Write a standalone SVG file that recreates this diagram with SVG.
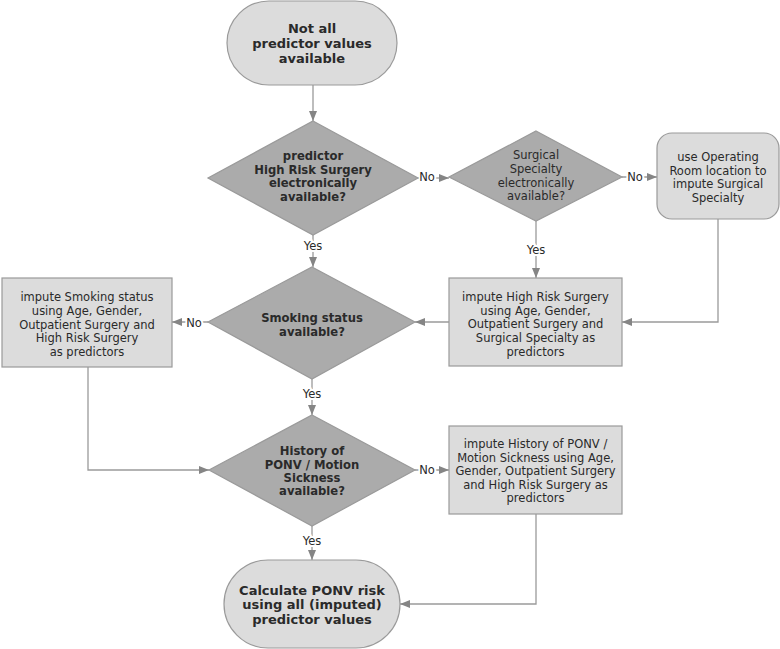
<svg xmlns="http://www.w3.org/2000/svg" width="780" height="649" viewBox="0 0 780 649">
<defs>
<marker id="ah" markerUnits="userSpaceOnUse" markerWidth="10" markerHeight="8" refX="10" refY="4" orient="auto">
<path d="M0,0 L10,4 L0,8 z" fill="#858585"/>
</marker>
<style>
.term{fill:#dcdcdc;stroke:#9a9a9a;stroke-width:1.2}
.dia{fill:#ababab;stroke:#9a9a9a;stroke-width:1.2}
.box{fill:#dcdcdc;stroke:#9a9a9a;stroke-width:1.2}
.conn{fill:none;stroke:#9a9a9a;stroke-width:1.3;marker-end:url(#ah)}
.connn{fill:none;stroke:#9a9a9a;stroke-width:1.3}
text{font-family:"DejaVu Sans",Verdana,sans-serif;fill:#2a2a2a;text-anchor:middle;dominant-baseline:central}
.b13{font-size:13px;font-weight:bold}
.b12{font-size:11.6px;font-weight:bold}
.r{font-size:11.5px}
.lbl{font-size:11.5px;stroke:#fff;stroke-width:4px;paint-order:stroke;stroke-linejoin:round}
</style>
</defs>
<g id="connectors">
<path class="conn" d="M313,85 V121"/>
<path class="conn" d="M418,178 H449"/>
<path class="conn" d="M622,177 H657"/>
<path class="conn" d="M718,219 V322 H622"/>
<path class="conn" d="M536,221 V278"/>
<path class="conn" d="M313,235 V267"/>
<path class="conn" d="M449,322 H415"/>
<path class="conn" d="M208,322 H172"/>
<path class="conn" d="M88,367 V470 H209"/>
<path class="conn" d="M312,379 V415"/>
<path class="conn" d="M415,470 H449"/>
<path class="conn" d="M536,514 V604 H400"/>
<path class="conn" d="M312,526 V560"/>
<text class="lbl" x="427" y="177">No</text>
<text class="lbl" x="635" y="177">No</text>
<text class="lbl" x="536" y="250">Yes</text>
<text class="lbl" x="313" y="246">Yes</text>
<text class="lbl" x="194" y="323">No</text>
<text class="lbl" x="312" y="394">Yes</text>
<text class="lbl" x="427" y="470">No</text>
<text class="lbl" x="312" y="541">Yes</text>
</g>
<g id="start">
<rect class="term" x="227" y="1" width="170" height="84" rx="42" ry="42"/>
<text class="b13" x="312" y="28">Not all</text>
<text class="b13" x="312" y="43">predictor values</text>
<text class="b13" x="312" y="58">available</text>
</g>
<g id="d-hrs">
<polygon class="dia" points="313,121 418,178 313,235 208,178"/>
<text class="b12" x="313" y="156">predictor</text>
<text class="b12" x="313" y="169.5">High Risk Surgery</text>
<text class="b12" x="313" y="183">electronically</text>
<text class="b12" x="313" y="196.5">available?</text>
</g>
<g id="d-spec">
<polygon class="dia" points="536,131 622,177 536,221 449,177"/>
<text class="r" x="536" y="155">Surgical</text>
<text class="r" x="536" y="169">Specialty</text>
<text class="r" x="536" y="182.5">electronically</text>
<text class="r" x="536" y="196">available?</text>
</g>
<g id="room">
<rect class="box" x="657" y="133" width="122" height="86" rx="15" ry="15"/>
<text class="r" x="718" y="157">use Operating</text>
<text class="r" x="718" y="170.5">Room location to</text>
<text class="r" x="718" y="184">impute Surgical</text>
<text class="r" x="718" y="197.5">Specialty</text>
</g>
<g id="hrs-box">
<rect class="box" x="449" y="278" width="173" height="88"/>
<text class="r" x="535.5" y="297">impute High Risk Surgery</text>
<text class="r" x="535.5" y="310.5">using Age, Gender,</text>
<text class="r" x="535.5" y="324">Outpatient Surgery and</text>
<text class="r" x="535.5" y="338">Surgical Specialty as</text>
<text class="r" x="535.5" y="352">predictors</text>
</g>
<g id="d-smoke">
<polygon class="dia" points="312,267 415,322 312,379 208,322"/>
<text class="b12" x="312" y="318">Smoking status</text>
<text class="b12" x="312" y="332">available?</text>
</g>
<g id="smoke-box">
<rect class="box" x="2" y="278" width="170" height="89"/>
<text class="r" x="87" y="297">impute Smoking status</text>
<text class="r" x="87" y="310.5">using Age, Gender,</text>
<text class="r" x="87" y="324.5">Outpatient Surgery and</text>
<text class="r" x="87" y="338">High Risk Surgery</text>
<text class="r" x="87" y="352">as predictors</text>
</g>
<g id="d-hist">
<polygon class="dia" points="312,415 415,470 312,526 209,470"/>
<text class="b12" x="312" y="451">History of</text>
<text class="b12" x="312" y="464.5">PONV / Motion</text>
<text class="b12" x="312" y="477.5">Sickness</text>
<text class="b12" x="312" y="491">available?</text>
</g>
<g id="hist-box">
<rect class="box" x="449" y="426" width="173" height="88"/>
<text class="r" x="535.5" y="444">impute History of PONV /</text>
<text class="r" x="535.5" y="457.5">Motion Sickness using Age,</text>
<text class="r" x="535.5" y="471">Gender, Outpatient Surgery</text>
<text class="r" x="535.5" y="484.5">and High Risk Surgery as</text>
<text class="r" x="535.5" y="498">predictors</text>
</g>
<g id="end">
<rect class="term" x="224" y="560" width="176" height="88" rx="44" ry="44"/>
<text class="b13" x="312" y="590">Calculate PONV risk</text>
<text class="b13" x="312" y="604.5">using all (imputed)</text>
<text class="b13" x="312" y="619">predictor values</text>
</g>
</svg>
